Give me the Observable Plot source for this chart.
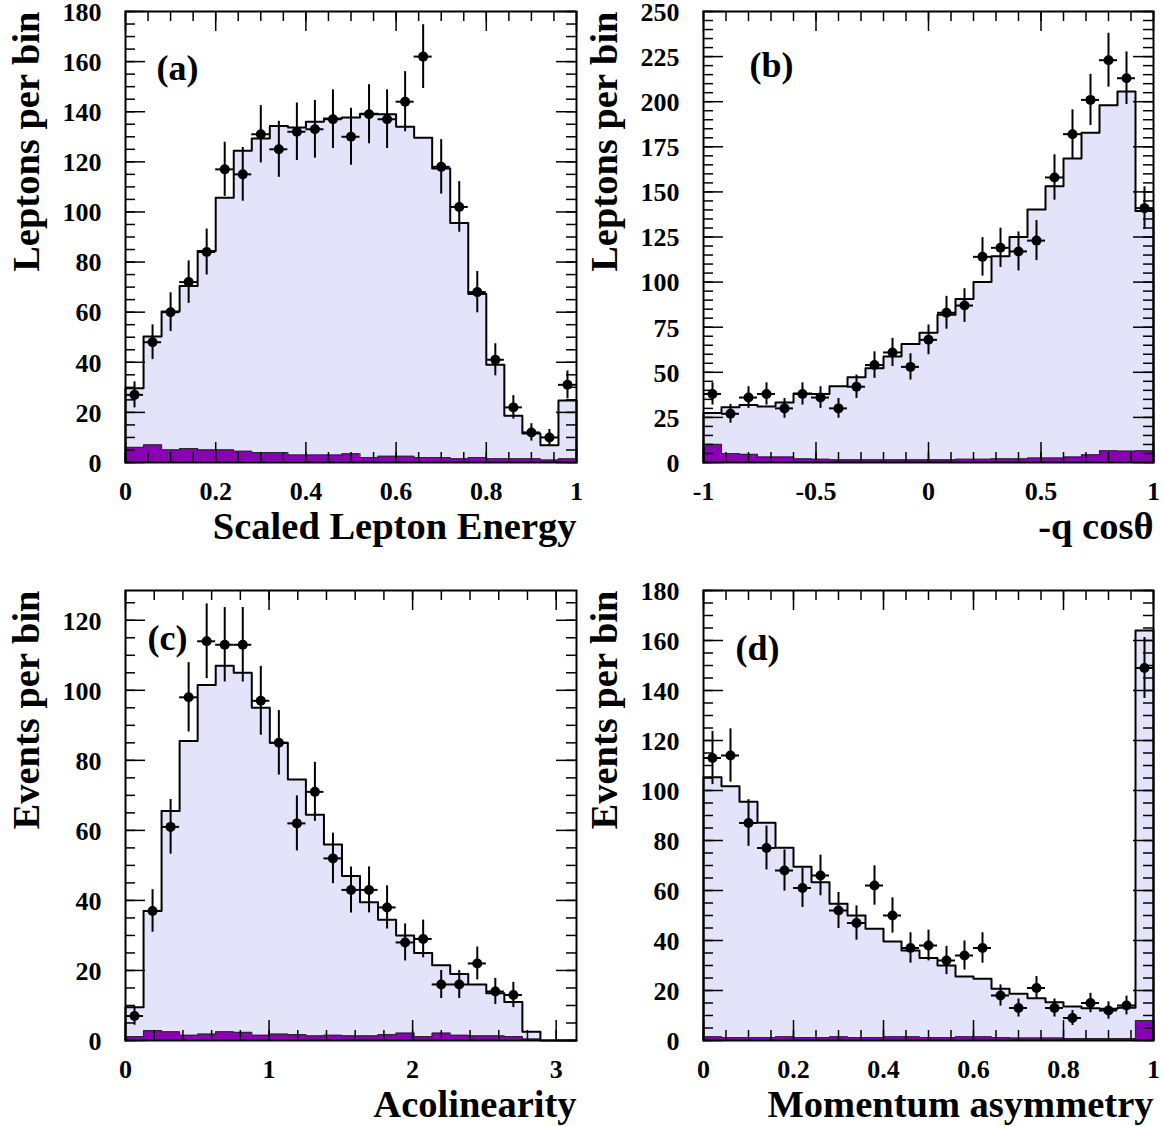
<!DOCTYPE html>
<html>
<head>
<meta charset="utf-8">
<script src="https://cdn.jsdelivr.net/npm/d3@7"></script>
<script src="https://cdn.jsdelivr.net/npm/@observablehq/plot@0.6"></script>
<style>
  html, body { margin: 0; padding: 0; background: #fff; }
  #root { position: relative; width: 1163px; height: 1127px; background: #fff; overflow: hidden; }
  #root svg { position: absolute; overflow: visible; }
</style>
</head>
<body>
<div id="root"></div>
<script>
// ---------- (a) Scaled Lepton Energy : 25 bins on [0,1] ----------
const energyMC   = [29.6, 50.3, 60.3, 70.4, 84.4, 105.7, 124.4, 129.3, 134.3, 133.7, 136, 137.3, 137.7, 139.2, 139, 134, 129.6, 117.3, 95.6, 67.3, 39, 18.7, 11.6, 6.9, 24.7];
const energyBkg  = [6, 7, 5, 5.5, 5, 5, 4.5, 4, 4, 3, 3, 3, 3.5, 2, 2.5, 2.5, 2, 2, 1.5, 2, 1.5, 1.5, 1.5, 1, 1.5];
const energyData = [27, 48, 60, 72, 84, 117, 115, 131, 125, 132, 133, 137, 130, 139, 137, 144, 162, 118, 102, 68, 41, 22, 12, 10, 31];

// ---------- (b) -q cos(theta) : 25 bins on [-1,1] ----------
const cosMC   = [27.4, 30.6, 31.9, 31.1, 33.3, 38.3, 38, 42.2, 47.2, 52.2, 58.7, 65.7, 71.9, 81.9, 90.7, 100, 114.3, 125, 140.2, 153.1, 168.5, 182.8, 198.1, 205.6, 139.4];
const cosBkg  = [10, 5, 4.5, 3, 3, 2, 1.8, 1.5, 1.5, 1.5, 1.5, 1.5, 1.5, 1.5, 1.8, 1.8, 2, 2, 2.5, 2.5, 3, 4.3, 6.5, 6.3, 6.5];
const cosData = [38, 27, 36, 38, 30, 38, 36, 30, 42, 54, 61, 53, 68, 83, 87, 114, 119, 117, 123, 158, 182, 201, 223, 213, 141];

// ---------- (c) Acolinearity : 25 bins on [0,pi] ----------
const acolMC   = [9.5, 37, 65.5, 85.5, 101.5, 107, 105, 95, 85, 74.5, 64.5, 56, 47, 39.5, 34.5, 30, 25, 21.5, 19, 16, 13.5, 11, 2.5, 0, 0];
const acolBkg  = [1.1, 2.8, 2.5, 1.5, 1.8, 2.5, 2.3, 1.5, 1.8, 1.7, 1.3, 1.5, 1.3, 1.3, 1.7, 2.1, 1.1, 2.1, 1.5, 1.3, 1.3, 1.1, 0.4, 0, 0];
const acolData = [7, 37, 61, 98, 114, 113, 113, 97, 85, 62, 71, 52, 43, 43, 38, 28, 29, 16, 16, 22, 14, 13];

// ---------- (d) Momentum asymmetry : 25 bins on [0,1] ----------
const asymMC   = [105.3, 101.7, 95.5, 87.1, 77.1, 69.5, 63.3, 54.7, 50, 44.7, 39.6, 36, 33, 30, 25.6, 24.7, 20.7, 18.7, 16.9, 15.3, 13.6, 12.9, 12.7, 13.1, 164];
const asymBkg  = [1.5, 1.2, 1.2, 1.2, 1.5, 1.2, 1.2, 1.5, 1.2, 1.2, 1.5, 1.5, 1.2, 1.2, 1.5, 1.5, 1.2, 1, 1, 1, 0.8, 0.8, 0.8, 0.8, 8];
const asymData = [113, 114, 87, 77, 68, 61, 66, 52, 47, 62, 50, 37, 38, 32, 34, 37, 18, 13, 21, 13, 9, 15, 12, 14, 149];

// ---------- tick labels ----------
const ticksUnit   = [0, 0.2, 0.4, 0.6, 0.8, 1];
const ticksCos    = [-1, -0.5, 0, 0.5, 1];
const ticksAcol   = [0, 1, 2, 3];
const ticksY180   = [0, 20, 40, 60, 80, 100, 120, 140, 160, 180];
const ticksY250   = [0, 25, 50, 75, 100, 125, 150, 175, 200, 225, 250];
const ticksY120   = [0, 20, 40, 60, 80, 100, 120];

const FONT = "'Liberation Serif', 'Times New Roman', Times, serif";
const LIGHT = "#e3e3fa";
const PURPLE = "#8a00b4";

function panel(cfg) {
  const {domainX, domainY, mc, bkg, data, majorX, minorX, majorY, minorY,
         label, labelDx, labelDy, xTitle, yTitle, left, top, width, height, m} = cfg;
  const [x0, x1] = domainX;
  const n = mc.length;
  const w = (x1 - x0) / n;
  const steps = (vals) => {
    const pts = [{x: x0, y: 0}];
    vals.forEach((v, i) => { pts.push({x: x0 + i * w, y: v}); pts.push({x: x0 + (i + 1) * w, y: v}); });
    pts.push({x: x1, y: 0});
    return pts;
  };
  const mcSteps = steps(mc);
  const bkgSteps = steps(bkg);
  const pts = data.map((v, i) => ({
    x: x0 + (i + 0.5) * w, xl: x0 + i * w, xr: x0 + (i + 1) * w,
    y: v, lo: v - Math.sqrt(v), hi: v + Math.sqrt(v)
  }));
  const fw = width - m.l - m.r;
  const fh = height - m.t - m.b;
  const fmt = (d) => String(d);
  const tk = {stroke: "black", strokeWidth: 1.5};

  const svg = Plot.plot({
    width, height,
    marginLeft: m.l, marginRight: m.r, marginTop: m.t, marginBottom: m.b,
    style: {fontFamily: FONT, fontSize: "26px", fontWeight: "bold", background: "transparent", color: "black", overflow: "visible"},
    x: {domain: domainX, label: null},
    y: {domain: domainY, label: null},
    marks: [
      Plot.area(mcSteps, {x1: "x", y1: 0, y2: "y", fill: LIGHT}),
      Plot.area(bkgSteps, {x1: "x", y1: 0, y2: "y", fill: PURPLE}),
      Plot.line(bkgSteps, {x: "x", y: "y", stroke: "#2a2a2a", strokeWidth: 1.2}),
      Plot.line(mcSteps, {x: "x", y: "y", stroke: "black", strokeWidth: 2}),
      // ticks on all four sides (inside)
      Plot.ruleX(majorX, {...tk, insetTop: fh - 20}),
      Plot.ruleX(majorX, {...tk, insetBottom: fh - 20}),
      Plot.ruleX(minorX, {...tk, insetTop: fh - 10}),
      Plot.ruleX(minorX, {...tk, insetBottom: fh - 10}),
      Plot.ruleY(majorY, {...tk, insetRight: fw - 20}),
      Plot.ruleY(majorY, {...tk, insetLeft: fw - 20}),
      Plot.ruleY(minorY, {...tk, insetRight: fw - 10}),
      Plot.ruleY(minorY, {...tk, insetLeft: fw - 10}),
      // data points with errors
      Plot.ruleX(pts, {x: "x", y1: "lo", y2: "hi", stroke: "black", strokeWidth: 2}),
      Plot.ruleY(pts, {y: "y", x1: "xl", x2: "xr", stroke: "black", strokeWidth: 2}),
      Plot.dot(pts, {x: "x", y: "y", r: 5, fill: "black", stroke: "none"}),
      Plot.axisX({ticks: majorX, tickSize: 0, tickPadding: 19, tickFormat: fmt, label: null}),
      Plot.axisY({ticks: majorY, tickSize: 0, tickPadding: 24, tickFormat: fmt, label: null, dy: 1}),
      Plot.text([label], {text: d => d, frameAnchor: "top-left", textAnchor: "start", lineAnchor: "top",
                          dx: labelDx, dy: labelDy, fontSize: 36, fontWeight: "bold"}),
      Plot.text([xTitle], {text: d => d, frameAnchor: "bottom-right", textAnchor: "end", lineAnchor: "middle",
                           dy: 64, fontSize: 38.5, fontWeight: "bold"}),
      Plot.text([yTitle], {text: d => d, frameAnchor: "top-left", textAnchor: "end", lineAnchor: "middle",
                           rotate: -90, dx: -99, dy: 0, fontSize: 38.5, fontWeight: "bold"}),
      Plot.frame({stroke: "black", strokeWidth: 2})
    ]
  });
  svg.style.left = left + "px";
  svg.style.top = top + "px";
  document.getElementById("root").appendChild(svg);
}

const mLeftTop  = {l: 125, r: 14, t: 11, b: 101};
const mRightTop = {l: 130, r: 10, t: 11, b: 101};
const mLeftBot  = {l: 125, r: 14, t: 27, b: 87};
const mRightBot = {l: 130, r: 10, t: 27, b: 87};

panel({
  domainX: [0, 1], domainY: [0, 180], mc: energyMC, bkg: energyBkg, data: energyData,
  majorX: ticksUnit, minorX: d3.range(0, 1.0001, 0.05),
  majorY: ticksY180, minorY: d3.range(0, 181, 5),
  label: "(a)", labelDx: 31, labelDy: 43,
  xTitle: "Scaled Lepton Energy", yTitle: "Leptons per bin",
  left: 0, top: 0, width: 590, height: 563, m: mLeftTop
});
panel({
  domainX: [-1, 1], domainY: [0, 250], mc: cosMC, bkg: cosBkg, data: cosData,
  majorX: ticksCos, minorX: d3.range(-1, 1.0001, 0.1),
  majorY: ticksY250, minorY: d3.range(0, 251, 5),
  label: "(b)", labelDx: 46, labelDy: 40,
  xTitle: "-q cosθ", yTitle: "Leptons per bin",
  left: 573, top: 0, width: 590, height: 563, m: mRightTop
});
panel({
  domainX: [0, Math.PI], domainY: [0, 128.5], mc: acolMC, bkg: acolBkg, data: acolData,
  majorX: ticksAcol, minorX: d3.range(0, Math.PI, 0.2),
  majorY: ticksY120, minorY: d3.range(0, 126, 5),
  label: "(c)", labelDx: 22, labelDy: 34,
  xTitle: "Acolinearity", yTitle: "Events per bin",
  left: 0, top: 563, width: 590, height: 564, m: mLeftBot
});
panel({
  domainX: [0, 1], domainY: [0, 180], mc: asymMC, bkg: asymBkg, data: asymData,
  majorX: ticksUnit, minorX: d3.range(0, 1.0001, 0.05),
  majorY: ticksY180, minorY: d3.range(0, 181, 5),
  label: "(d)", labelDx: 32, labelDy: 44,
  xTitle: "Momentum asymmetry", yTitle: "Events per bin",
  left: 573, top: 563, width: 590, height: 564, m: mRightBot
});
</script>
</body>
</html>
